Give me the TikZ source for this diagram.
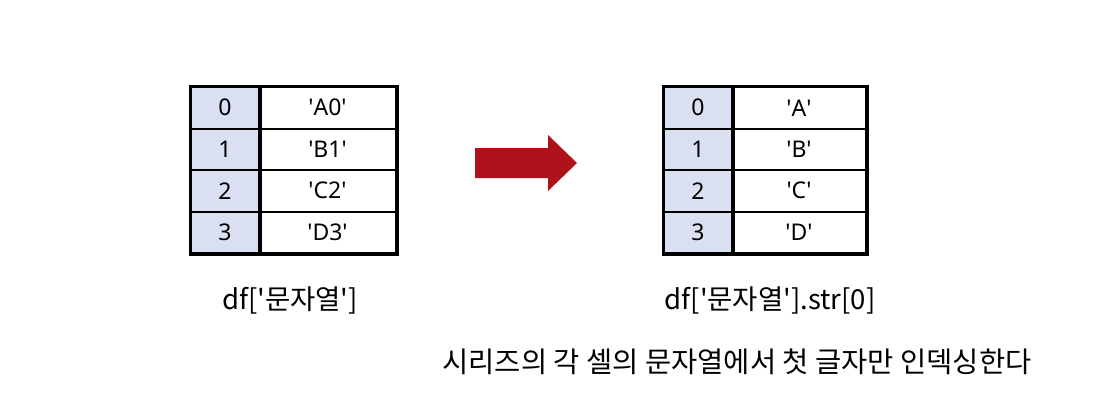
\documentclass[tikz,border=0pt]{standalone}
\usepackage{fontspec}
\setmainfont{Noto Sans}
\newfontfamily\kr{Noto Sans CJK KR}
\definecolor{idxblue}{HTML}{DAE0F1}
\definecolor{arrowred}{HTML}{B0121B}
\newcommand{\q}{\textquotesingle}
\begin{document}
\begin{tikzpicture}[x=1pt,y=-1pt,
  cell/.style={draw, line width=2pt, inner sep=0pt, minimum height=41.5pt, font=\fontsize{23}{27}\selectfont},
  idx/.style={cell, fill=idxblue, minimum width=68pt},
  valL/.style={cell, minimum width=137pt},
  valR/.style={cell, minimum width=134pt},
  border/.style={line width=3pt},
  lbl/.style={font=\kr\fontsize{27.5}{32}\selectfont, inner sep=0pt},
  note/.style={font=\kr\fontsize{28.5}{34}\selectfont, inner sep=0pt}]
\useasboundingbox (0,0) rectangle (1107,413);
% left table
\node[idx]  (li0) at (225,107.75) {0};
\node[idx]  (li1) at (225,149.25) {1};
\node[idx]  (li2) at (225,190.75) {2};
\node[idx]  (li3) at (225,232.25) {3};
\node[valL] (lv0) at (327.5,107.75) {\q A0\q};
\node[valL] (lv1) at (327.5,149.25) {\q B1\q};
\node[valL] (lv2) at (327.5,190.75) {\q C2\q};
\node[valL] (lv3) at (327.5,232.25) {\q D3\q};
\draw[border] (li0.north west) rectangle (lv3.south east);
\draw[border] (li0.north east) -- (li3.south east);
% right table
\node[idx]  (ri0) at (698,107.75) {0};
\node[idx]  (ri1) at (698,149.25) {1};
\node[idx]  (ri2) at (698,190.75) {2};
\node[idx]  (ri3) at (698,232.25) {3};
\node[valR] (rv0) at (799,107.75) {\q A\q};
\node[valR] (rv1) at (799,149.25) {\q B\q};
\node[valR] (rv2) at (799,190.75) {\q C\q};
\node[valR] (rv3) at (799,232.25) {\q D\q};
\draw[border] (ri0.north west) rectangle (rv3.south east);
\draw[border] (ri0.north east) -- (ri3.south east);
% arrow
\fill[arrowred] (475,148) -- (548,148) -- (548,135) -- (577,163) -- (548,191) -- (548,178) -- (475,178) -- cycle;
% labels
\node[lbl] (ll) at (290,300) {df[\q 문자열\q]};
\node[lbl] (rl) at (770,300) {df[\q 문자열\q].str[0]};
\node[note] (nt) at (737,362) {시리즈의 각 셀의 문자열에서 첫 글자만 인덱싱한다};
\end{tikzpicture}
\end{document}
